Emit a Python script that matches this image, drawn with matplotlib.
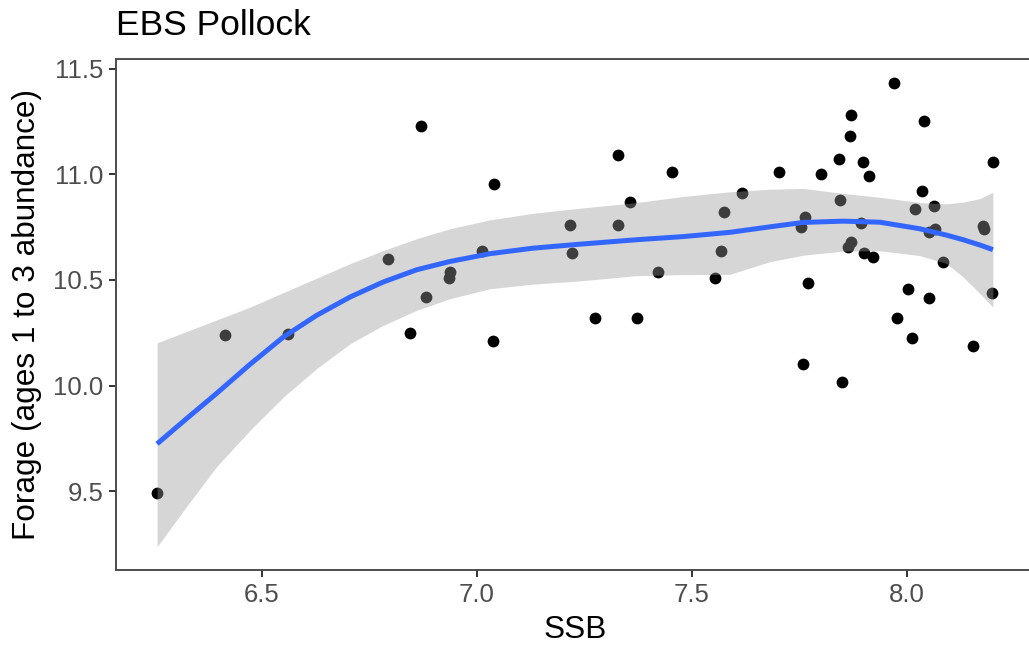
import numpy as np
import matplotlib
matplotlib.use('Agg')
import matplotlib.pyplot as plt

plt.rcParams['font.family'] = ['Liberation Sans', 'DejaVu Sans']

# observed points (SSB, forage)
ssb = [6.256, 6.415, 6.560, 6.793, 6.845, 6.869, 6.882, 6.936, 6.938, 7.012,
       7.037, 7.039, 7.217, 7.221, 7.274, 7.329, 7.329, 7.356, 7.373, 7.421,
       7.453, 7.553, 7.567, 7.574, 7.617, 7.702, 7.754, 7.759, 7.764, 7.771,
       7.800, 7.843, 7.845, 7.850, 7.864, 7.867, 7.870, 7.870, 7.893, 7.897,
       7.901, 7.913, 7.920, 7.971, 7.976, 8.002, 8.012, 8.018, 8.035, 8.039,
       8.051, 8.051, 8.062, 8.065, 8.084, 8.153, 8.176, 8.180, 8.198, 8.200]
forage = [9.492, 10.239, 10.246, 10.597, 10.249, 11.226, 10.420, 10.507, 10.535, 10.638,
          10.211, 10.956, 10.762, 10.629, 10.321, 11.090, 10.759, 10.870, 10.321, 10.539,
          11.010, 10.510, 10.638, 10.819, 10.909, 11.012, 10.751, 10.100, 10.797, 10.483,
          11.000, 11.070, 10.876, 10.015, 10.657, 11.183, 11.279, 10.679, 10.769, 11.057,
          10.629, 10.991, 10.606, 11.434, 10.318, 10.457, 10.225, 10.835, 10.922, 11.254,
          10.729, 10.414, 10.849, 10.739, 10.583, 10.189, 10.753, 10.740, 10.436, 11.056]

# loess smooth and its band
fit_x = [6.256, 6.325, 6.394, 6.472, 6.550, 6.627, 6.705, 6.782, 6.860, 6.937,
         7.030, 7.130, 7.233, 7.371, 7.480, 7.588, 7.681, 7.759, 7.852, 7.937,
         8.030, 8.092, 8.131, 8.170, 8.200]
fit_y = [9.724, 9.844, 9.962, 10.100, 10.230, 10.332, 10.419, 10.490, 10.548, 10.587,
         10.624, 10.650, 10.668, 10.690, 10.705, 10.725, 10.751, 10.772, 10.778, 10.773,
         10.742, 10.712, 10.690, 10.665, 10.643]
fit_hi = [10.202, 10.256, 10.310, 10.371, 10.440, 10.508, 10.577, 10.639, 10.695, 10.742,
          10.784, 10.815, 10.838, 10.866, 10.895, 10.917, 10.929, 10.933, 10.909, 10.891,
          10.866, 10.860, 10.868, 10.885, 10.915]
fit_lo = [9.237, 9.429, 9.615, 9.788, 9.946, 10.080, 10.198, 10.285, 10.356, 10.411,
          10.458, 10.480, 10.494, 10.520, 10.525, 10.526, 10.586, 10.617, 10.636, 10.638,
          10.615, 10.578, 10.513, 10.435, 10.371]

W, H = 1029, 649
fig = plt.figure(figsize=(W / 100, H / 100), dpi=100)
ax = fig.add_axes([115.7 / W, (H - 570) / H, (1034.6 - 115.7) / W, (570 - 59.3) / H])

ax.scatter(ssb, forage, s=72, color='black', linewidths=0, zorder=2)
ax.fill_between(fit_x, fit_lo, fit_hi, color='#999999', alpha=0.4, linewidth=0, zorder=3)
ax.plot(fit_x, fit_y, color='#3366FF', linewidth=3.6, zorder=4,
        solid_capstyle='butt', solid_joinstyle='round')

ax.set_xlim(6.1598, 8.297)
ax.set_ylim(9.127, 11.544)
ax.set_xticks([6.5, 7.0, 7.5, 8.0])
ax.set_yticks([9.5, 10.0, 10.5, 11.0, 11.5])
ax.xaxis.set_major_formatter(matplotlib.ticker.FormatStrFormatter('%.1f'))
ax.yaxis.set_major_formatter(matplotlib.ticker.FormatStrFormatter('%.1f'))

for side in ['left', 'bottom', 'top', 'right']:
    ax.spines[side].set_color('#4D4D4D')
    ax.spines[side].set_linewidth(1.4)
ax.tick_params(axis='both', colors='#333333', labelcolor='#4D4D4D',
               length=5, width=1.4, labelsize=18.5, pad=4)

ax.set_xlabel('SSB', fontsize=22.7, color='black', labelpad=6)
ax.set_ylabel('Forage (ages 1 to 3 abundance)', fontsize=22.7, color='black', labelpad=8)
fig.text(115.7 / W, 1 - 35 / H, 'EBS Pollock', fontsize=25.5, color='black',
         ha='left', va='baseline')

fig.savefig('out.png', dpi=100)
